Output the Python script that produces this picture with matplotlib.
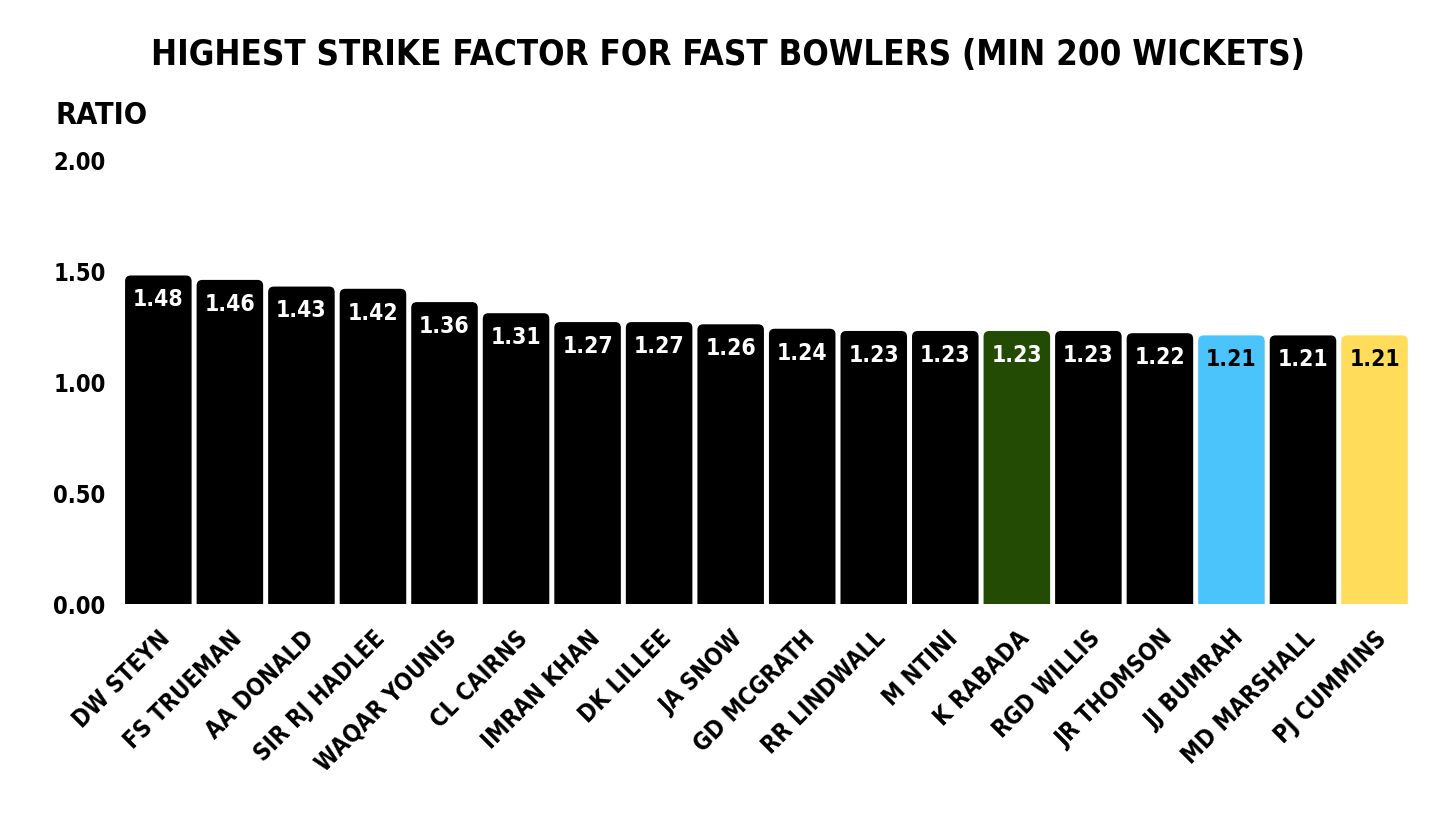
import matplotlib.pyplot as plt
from matplotlib.patches import FancyBboxPatch
import numpy as np

players = ['DW STEYN', 'FS TRUEMAN', 'AA DONALD', 'SIR RJ HADLEE', 'WAQAR YOUNIS',
           'CL CAIRNS', 'IMRAN KHAN', 'DK LILLEE', 'JA SNOW', 'GD MCGRATH',
           'RR LINDWALL', 'M NTINI', 'K RABADA', 'RGD WILLIS', 'JR THOMSON',
           'JJ BUMRAH', 'MD MARSHALL', 'PJ CUMMINS']
ratio = [1.48, 1.46, 1.43, 1.42, 1.36, 1.31, 1.27, 1.27, 1.26, 1.24,
         1.23, 1.23, 1.23, 1.23, 1.22, 1.21, 1.21, 1.21]
bar_colors = ['#000000'] * 12 + ['#244b04', '#000000', '#000000', '#4bc3fb', '#000000', '#ffdc5a']
label_colors = ['white'] * 15 + ['black', 'white', 'black']
yticks = [0, 0.5, 1.0, 1.5, 2.0]

plt.rcParams['font.family'] = ['DejaVu Sans']
fw = dict(fontweight='bold', fontstretch='condensed')

fig = plt.figure(figsize=(14.56, 8.19), dpi=100)
ax = fig.add_axes([0.0859, 0.2625, 0.881, 0.5421])

w = 0.93
x = np.arange(len(players))
bars = ax.bar(x, ratio, width=w, color=bar_colors)
ax.set_xlim(-w / 2, len(players) - 1 + w / 2)
ax.set_ylim(0, 2)

# swap the plain bars for ones with rounded top corners
pad = 0.05
for b in bars:
    rb = FancyBboxPatch((b.get_x(), -pad), b.get_width(), b.get_height() + pad,
                        boxstyle='round,pad=0,rounding_size=0.08', mutation_aspect=0.32,
                        facecolor=b.get_facecolor(), edgecolor='none')
    ax.add_patch(rb)
    b.set_visible(False)

for b, v, c in zip(bars, ratio, label_colors):
    ax.text(b.get_x() + b.get_width() / 2, v - 0.11, f'{v:.2f}', ha='center', va='center',
            color=c, fontsize=16.5, **fw)

ax.set_yticks(yticks)
ax.set_yticklabels([f'{t:.2f}' for t in yticks], fontsize=17, **fw)
ax.set_xticks(x)
ax.set_xticklabels(players, rotation=45, ha='right', rotation_mode='anchor', fontsize=17, **fw)
ax.tick_params(length=0, pad=14)
ax.tick_params(axis='x', pad=16)
for s in ax.spines.values():
    s.set_visible(False)

fig.text(0.5, 0.933, 'HIGHEST STRIKE FACTOR FOR FAST BOWLERS (MIN 200 WICKETS)', ha='center',
         va='center', fontsize=25, **fw)
fig.text(0.038, 0.859, 'RATIO', ha='left', va='center', fontsize=22, **fw)

fig.savefig('out.png', dpi=100)
